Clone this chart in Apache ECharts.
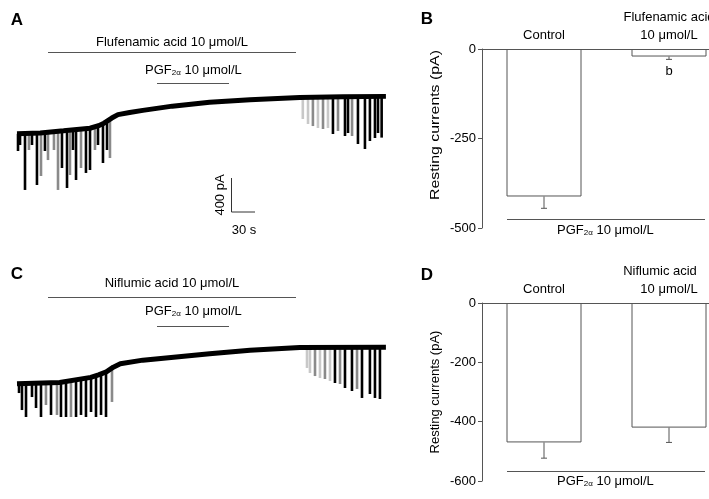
<!DOCTYPE html>
<html><head><meta charset="utf-8">
<script src="https://cdn.jsdelivr.net/npm/echarts@6/dist/echarts.min.js"></script>
<style>html,body{margin:0;padding:0;background:#fff}#c{width:709px;height:499px}</style>
</head><body><div id="c"></div>
<script>
// ---- Trace A (flufenamic acid): baseline [time s, current pA]
const baseA = [[0,-515],[30,-505],[60,-480],[94,-450],[105,-420],[112,-390],[122,-330],[130,-290],[145,-265],[162,-240],[200,-190],[248,-145],[300,-115],[364,-88],[420,-80],[475,-75]];
// spikes [time s, peak pA, shade 0=black 1=gray 2=light]
const spikesA = [[1.3,-718,0],[3.9,-647,0],[10.3,-1176,0],[15.4,-706,1],[19.3,-647,0],[25.7,-1118,0],[30.9,-1012,1],[36,-718,0],[39.9,-824,1],[47.6,-706,1],[52.8,-1176,1],[57.9,-918,0],[64.4,-1153,0],[68.2,-1000,1],[72.1,-706,0],[76,-1059,0],[82.4,-918,1],[88.8,-976,0],[94,-941,0],[100.4,-706,1],[104.3,-647,0],[110.7,-859,0],[115.9,-706,0],[119.7,-800,1],
  [368,-341,2],[374.7,-400,2],[381,-424,1],[387.5,-447,2],[394,-459,1],[400.4,-447,2],[406.8,-518,0],[413.3,-482,1],[422.3,-541,0],[426.2,-506,0],[431.4,-541,1],[439,-635,0],[448,-694,0],[454.4,-600,0],[460.9,-565,0],[464.8,-506,0],[469.5,-560,0]];
// ---- Trace C (niflumic acid)
const baseC = [[0,-515],[55,-500],[95,-440],[105,-410],[115,-375],[124,-320],[133,-280],[162,-237],[248,-163],[300,-120],[364,-88],[475,-85]];
const spikesC = [[2.6,-624,0],[6.4,-824,0],[11.6,-906,0],[19.3,-671,0],[24.5,-800,0],[30.9,-906,0],[37.3,-765,1],[43.8,-882,0],[51.5,-882,1],[56.6,-906,0],[63.1,-906,0],[69.5,-906,1],[76,-906,0],[82.4,-882,0],[88.8,-906,0],[95.3,-847,0],[101.7,-906,0],[108.2,-882,0],[114.6,-906,0],[122.3,-729,1],
  [373.4,-329,2],[377.2,-388,2],[383.7,-424,1],[390.1,-447,2],[396.5,-459,1],[403,-482,2],[409.4,-506,0],[415.9,-518,1],[422.3,-565,0],[431.3,-600,0],[437.8,-576,1],[444.2,-682,0],[454.4,-635,0],[460.9,-682,0],[467.3,-694,0]];

// ---- Bar panel B
const catsB = ['Control', 'Flufenamic acid\n10 μmol/L'];
const meansB = [-412, -21];
const errB = [-445, -29];
const sigB = ['', 'b'];
// ---- Bar panel D
const catsD = ['Control', '{p|Niflumic acid}\n10 μmol/L'];
const meansD = [-470, -420];
const errD = [-523, -470];
const sigD = ['', ''];
const yNameText = 'Resting currents (pA)';

const FONT = 'Liberation Sans';
const shades = ['#000', '#8a8a8a', '#c8c8c8'];
const AX = '#555';

function interp(base, t){
  for (let i=1;i<base.length;i++){
    if (t <= base[i][0]) {
      const a=base[i-1], b=base[i];
      return a[1] + (b[1]-a[1])*(t-a[0])/(b[0]-a[0]);
    }
  }
  return base[base.length-1][1];
}
function spikeRender(base){
  return function(params, api){
    const t = api.value(0), bot = api.value(1), s = api.value(2);
    const p1 = api.coord([t, interp(base, t)]);
    const p2 = api.coord([t, bot]);
    return {type:'line', shape:{x1:p1[0],y1:p1[1],x2:p2[0],y2:p2[1]}, style:{stroke:shades[s], lineWidth:2.6}};
  };
}
function errRender(sig){
  return function(params, api){
    const i = api.value(0);
    const p1 = api.coord([i, api.value(1)]);
    const p2 = api.coord([i, api.value(2)]);
    const ch = [
      {type:'line', shape:{x1:p1[0],y1:p1[1],x2:p2[0],y2:p2[1]}, style:{stroke:AX,lineWidth:1}},
      {type:'line', shape:{x1:p2[0]-3,y1:p2[1],x2:p2[0]+3,y2:p2[1]}, style:{stroke:AX,lineWidth:1}}
    ];
    if (sig[i]) ch.push({type:'text', style:{text:sig[i], x:p2[0], y:p2[1]+12, align:'center', verticalAlign:'middle', fill:'#000', font:'13px '+FONT}});
    return {type:'group', children: ch};
  };
}

const chart = echarts.init(document.getElementById('c'), null, {renderer:'canvas'});
const traceX = (i)=>({gridIndex:i, type:'value', min:0, max:480, show:false});
const traceY = (i)=>({gridIndex:i, type:'value', min:-1300, max:0, show:false});
function barX(i, cats){
  return {gridIndex:i, type:'value', min:-0.496, max:1.32, position:'top',
    axisLine:{show:true, onZero:true, lineStyle:{color:AX}}, axisTick:{show:false}, splitLine:{show:false},
    axisLabel:{customValues:[0,1], formatter:(v)=>cats[Math.round(v)], hideOverlap:false,
      color:'#000', fontFamily:FONT, fontSize:13, lineHeight:18, margin:5,
      rich:{p:{fontFamily:FONT, fontSize:13, padding:[0,18,0,0]}}}};
}
function barY(i, min, interval, name){
  return {gridIndex:i, type:'value', min:min, max:0, interval:interval,
    name:name, nameLocation:'middle', nameGap:40,
    nameTextStyle:{color:'#000', fontFamily:FONT, fontSize:13},
    axisLine:{show:true, onZero:false, lineStyle:{color:AX}}, axisTick:{show:true, length:4, lineStyle:{color:AX}},
    splitLine:{show:false},
    axisLabel:{color:'#000', fontFamily:FONT, fontSize:13, margin:6}};
}
function pgfText(x, y){
  return {type:'text', left:x, top:y, style:{
    text:'{a|PGF}{s|2α}{a| 10 μmol/L}', fill:'#000',
    rich:{a:{fontFamily:FONT,fontSize:13,fill:'#000'}, s:{fontFamily:FONT,fontSize:8,fill:'#000',padding:[4,0,0,0]}}}};
}
function hline(x1, x2, y){
  return {type:'line', shape:{x1:x1,y1:y,x2:x2,y2:y}, style:{stroke:AX, lineWidth:1}};
}
function txt(s, x, y, opts){
  return {type:'text', style:Object.assign({text:s, x:x, y:y, fill:'#000', font:'13px '+FONT, align:'center', verticalAlign:'middle'}, opts||{})};
}
const G = (o)=>Object.assign({outerBoundsMode:'none', containLabel:false}, o);

chart.setOption({
  animation:false,
  grid:[
    G({left:17, top:90, width:372.8, height:110.5}),
    G({left:17, top:340, width:372.8, height:110.5}),
    G({left:482, top:49, width:227, height:179}),
    G({left:482, top:303, width:227, height:178})
  ],
  xAxis:[traceX(0), traceX(1), barX(2, catsB), barX(3, catsD)],
  yAxis:[traceY(0), traceY(1), barY(2, -500, 250, ''), barY(3, -600, 200, yNameText)],
  series:[
    {type:'custom', xAxisIndex:0, yAxisIndex:0, data:spikesA, renderItem:spikeRender(baseA), z:2},
    {type:'line', xAxisIndex:0, yAxisIndex:0, data:baseA, showSymbol:false, lineStyle:{color:'#000', width:5}, z:3},
    {type:'custom', xAxisIndex:1, yAxisIndex:1, data:spikesC, renderItem:spikeRender(baseC), z:2},
    {type:'line', xAxisIndex:1, yAxisIndex:1, data:baseC, showSymbol:false, lineStyle:{color:'#000', width:5}, z:3},
    {type:'bar', xAxisIndex:2, yAxisIndex:2, data:meansB.map((m,i)=>[i,m]), barWidth:75, itemStyle:{color:'#fff', borderColor:AX, borderWidth:1}},
    {type:'custom', xAxisIndex:2, yAxisIndex:2, data:meansB.map((m,i)=>[i,m,errB[i]]), renderItem:errRender(sigB), z:5},
    {type:'bar', xAxisIndex:3, yAxisIndex:3, data:meansD.map((m,i)=>[i,m]), barWidth:75, itemStyle:{color:'#fff', borderColor:AX, borderWidth:1}},
    {type:'custom', xAxisIndex:3, yAxisIndex:3, data:meansD.map((m,i)=>[i,m,errD[i]]), renderItem:errRender(sigD), z:5}
  ],
  graphic:[
    txt('A', 17, 20, {font:'bold 17px '+FONT}),
    txt('B', 427, 19, {font:'bold 17px '+FONT}),
    txt('C', 17, 274, {font:'bold 17px '+FONT}),
    txt('D', 427, 275, {font:'bold 17px '+FONT}),
    // panel B y-axis title (vertically stretched in the original)
    {type:'text', x:435.5, y:125, rotation:Math.PI/2, scaleX:1.22, style:{text:yNameText, fill:'#000', font:'13px '+FONT, align:'center', verticalAlign:'middle'}},
    txt('Flufenamic acid 10 μmol/L', 172, 42),
    hline(48, 296, 52.5),
    pgfText(145, 64),
    hline(157, 229, 83.5),
    txt('Niflumic acid 10 μmol/L', 172, 283),
    hline(48, 296, 297.5),
    pgfText(145, 305),
    hline(157, 229, 326.5),
    // scale bar
    {type:'line', shape:{x1:231.5,y1:178,x2:231.5,y2:212}, style:{stroke:'#333', lineWidth:1}},
    {type:'line', shape:{x1:231.5,y1:212,x2:255,y2:212}, style:{stroke:'#333', lineWidth:1}},
    {type:'text', x:220, y:195, rotation:Math.PI/2, style:{text:'400 pA', fill:'#000', font:'13px '+FONT, align:'center', verticalAlign:'middle'}},
    txt('30 s', 244, 230),
    // PGF bars under bar charts
    hline(507, 705, 219.5),
    pgfText(557, 224),
    hline(507, 705, 471.5),
    pgfText(557, 475)
  ]
});
</script></body></html>
